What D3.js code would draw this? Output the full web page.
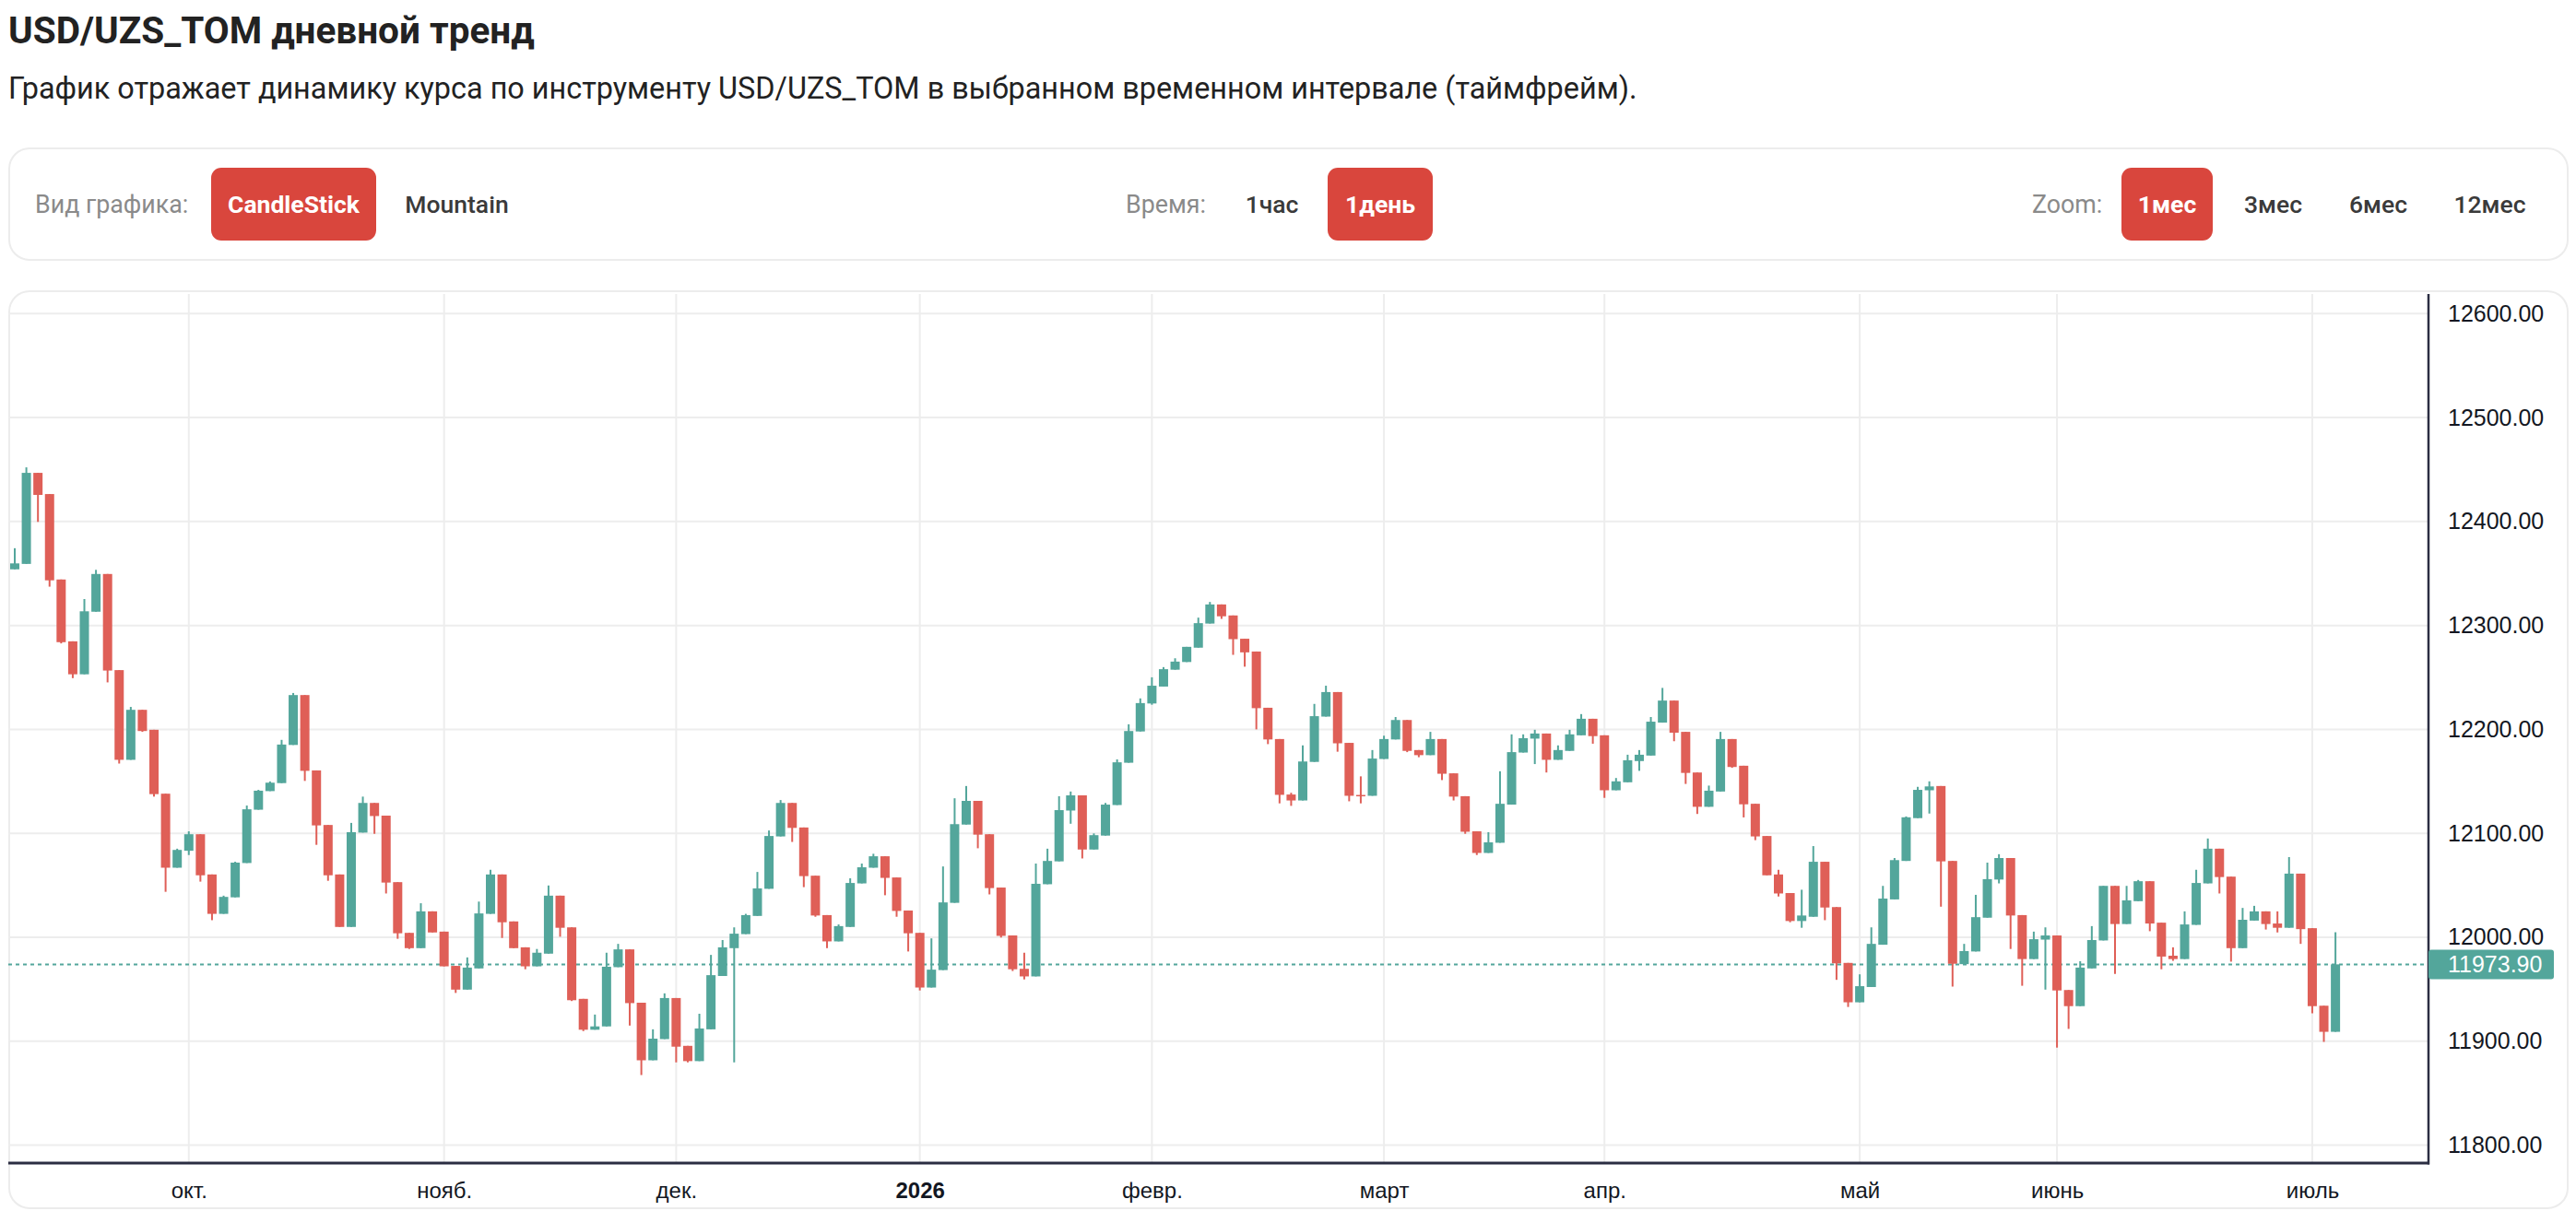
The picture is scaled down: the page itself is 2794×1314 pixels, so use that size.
<!DOCTYPE html>
<html><head><meta charset="utf-8">
<script src="https://cdn.jsdelivr.net/npm/d3@7"></script>
<style>
html,body{margin:0;padding:0;background:#fff;}
svg{display:block;}
</style></head><body>
<svg id="c" width="2794" height="1314"></svg>
<script>
// ---------- DATA ----------
const opens=[12354.0,12359.2,12446.8,12426.4,12344.2,12284.7,12253.0,12313.2,12349.5,12257.0,
12170.7,12218.8,12199.6,12138.1,12066.9,12083.2,12099.1,12060.4,12022.5,12038.4,
12071.4,12122.7,12140.6,12148.3,12185.0,12233.0,12160.5,12108.0,12060.4,12009.9,
12100.7,12129.2,12117.0,12053.0,12004.2,11989.5,12024.9,12005.4,11972.4,11949.6,
11970.0,12022.5,12060.4,12015.2,11990.3,11972.0,11984.2,12040.0,12009.5,11940.7,
11911.0,11914.2,11971.2,11988.3,11937.0,11881.6,11902.0,11941.5,11895.5,11880.8,
11911.4,11962.7,11989.5,12003.0,12020.5,12046.6,12097.0,12129.2,12105.6,12059.2,
12021.3,11996.0,12009.9,12051.8,12066.9,12077.9,12057.5,12025.7,12004.2,11951.6,
11968.4,12033.1,12108.4,12131.2,12099.1,12047.8,12001.7,11969.6,11962.3,12051.0,
12073.0,12121.9,12136.5,12084.4,12097.8,12127.2,12167.9,12198.0,12224.9,12241.2,
12257.4,12264.8,12278.6,12301.8,12320.2,12309.6,12287.2,12274.9,12220.8,12190.7,
12137.3,12131.6,12168.7,12212.3,12235.9,12187.0,12136.9,12136.1,12171.5,12190.3,
12209.0,12180.1,12175.2,12190.7,12157.7,12135.7,12101.9,12081.1,12090.9,12127.6,
12177.7,12191.1,12196.0,12170.7,12179.3,12194.3,12210.2,12194.3,12141.4,12149.1,
12169.5,12174.8,12206.5,12227.7,12197.6,12158.5,12125.5,12140.2,12190.7,12165.0,
12128.4,12097.4,12060.4,12042.5,12015.6,12019.7,12072.6,12029.0,11975.3,11937.4,
11952.1,11992.8,12036.4,12073.4,12114.6,12141.4,12145.5,12073.4,11974.1,11986.3,
12018.8,12055.5,12076.2,12021.3,11979.0,11997.7,12001.7,11949.2,11933.7,11970.0,
11996.9,12049.4,12012.7,12034.7,12053.9,12014.0,11982.2,11979.0,12011.9,12051.8,
12085.2,12058.3,11989.5,12016.0,12024.9,12013.2,12009.1,12061.2,12008.7,11934.1,
11909.0];
const highs=[12374.3,12452.1,12446.8,12426.4,12344.2,12284.7,12325.4,12353.5,12349.5,12257.0,
12221.6,12218.8,12199.6,12138.1,12085.2,12101.9,12099.1,12060.4,12040.0,12072.6,
12126.7,12141.8,12149.9,12189.9,12235.0,12233.0,12160.5,12108.0,12060.4,12110.0,
12135.3,12129.2,12117.0,12053.0,12004.2,12032.7,12024.9,12005.4,11972.4,11980.6,
12034.3,12064.9,12060.4,12015.2,11990.3,11988.7,12049.8,12040.0,12009.5,11940.7,
11925.6,11985.1,11993.6,11988.3,11937.0,11911.4,11946.0,11941.5,11895.5,11926.4,
11983.0,11997.3,12009.5,12022.5,12062.8,12102.7,12132.0,12129.2,12105.6,12059.2,
12021.3,12012.3,12056.7,12070.9,12080.3,12077.9,12057.5,12025.7,12004.2,11998.9,
12068.1,12133.7,12145.5,12131.2,12099.1,12047.8,12001.7,11985.1,12070.9,12085.2,
12135.7,12140.2,12136.5,12099.9,12129.2,12171.1,12204.9,12229.8,12250.1,12259.9,
12268.4,12279.4,12307.5,12322.6,12320.2,12309.6,12287.2,12274.9,12220.8,12190.7,
12139.0,12184.6,12224.5,12242.0,12235.9,12187.0,12154.8,12180.1,12193.9,12211.9,
12209.0,12180.1,12197.6,12190.7,12157.7,12135.7,12101.9,12101.1,12159.7,12195.2,
12195.2,12199.6,12196.0,12184.6,12199.6,12214.7,12210.2,12194.3,12153.2,12175.6,
12180.1,12211.9,12239.9,12227.7,12197.6,12158.5,12145.9,12197.6,12190.7,12165.0,
12128.4,12097.4,12064.9,12042.5,12045.7,12087.7,12072.6,12029.0,11975.3,11964.3,
12009.5,12049.4,12076.2,12116.2,12144.7,12150.0,12145.5,12073.4,11993.6,12040.8,
12071.8,12079.9,12076.2,12021.3,12005.4,12009.5,12001.7,11949.2,11976.9,12010.7,
12049.4,12049.4,12049.4,12055.1,12053.9,12014.0,11990.3,12024.9,12064.9,12095.0,
12085.2,12058.3,12028.2,12030.2,12024.9,12024.9,12077.1,12061.2,12008.7,11934.1,
12004.8];
const lows=[12354.0,12359.2,12399.6,12337.3,12282.7,12249.3,12253.0,12313.2,12245.2,12167.1,
12170.7,12197.6,12135.3,12043.7,12066.9,12079.1,12053.5,12016.4,12022.5,12038.4,
12071.4,12122.7,12140.6,12148.3,12185.0,12150.4,12088.9,12054.3,12009.9,12009.9,
12100.7,12099.5,12042.1,11998.5,11988.7,11989.5,12004.6,11972.0,11946.4,11949.6,
11970.0,12022.5,11999.3,11989.5,11969.2,11972.0,11984.2,12000.5,11938.6,11909.7,
11911.0,11914.2,11971.2,11915.0,11867.4,11881.6,11902.0,11879.6,11879.6,11880.8,
11911.4,11962.7,11879.6,12003.0,12020.5,12046.6,12097.0,12091.7,12048.2,12019.7,
11989.5,11996.0,12009.9,12051.8,12066.9,12040.4,12019.7,11986.3,11948.8,11951.6,
11968.4,12033.1,12108.4,12085.6,12041.2,11999.7,11967.5,11959.4,11962.3,12051.0,
12073.0,12109.2,12075.8,12084.4,12097.8,12127.2,12167.9,12198.0,12223.7,12241.2,
12257.4,12264.8,12278.6,12301.8,12306.3,12271.7,12260.3,12200.0,12185.8,12128.8,
12126.4,12131.6,12168.7,12212.3,12178.5,12130.8,12128.8,12136.1,12171.5,12190.3,
12178.1,12173.2,12175.2,12151.2,12131.6,12099.5,12079.1,12081.1,12090.9,12127.6,
12177.7,12166.6,12158.5,12170.7,12179.3,12194.3,12186.2,12134.1,12141.4,12149.1,
12160.1,12174.8,12206.5,12188.6,12147.5,12118.6,12125.5,12140.2,12163.0,12115.3,
12093.4,12059.6,12039.2,12014.4,12009.1,12019.7,12016.4,11959.0,11932.9,11937.4,
11952.1,11992.8,12036.4,12073.4,12114.6,12119.0,12029.4,11952.5,11974.1,11986.3,
12018.8,12051.8,11988.7,11953.3,11979.0,11949.6,11893.8,11911.8,11933.7,11970.0,
11996.9,11964.7,12012.7,12034.7,12005.8,11969.2,11977.3,11979.0,12011.9,12051.8,
12042.1,11976.5,11989.5,12016.0,12007.4,12004.6,12009.1,11993.6,11926.8,11899.3,
11909.0];
const closes=[12359.7,12446.8,12425.6,12343.4,12283.9,12253.0,12313.6,12349.5,12256.6,12170.7,
12218.8,12198.4,12137.7,12066.9,12084.0,12099.1,12059.6,12022.5,12038.8,12071.8,
12123.1,12141.0,12148.7,12185.4,12233.0,12160.1,12107.6,12059.6,12009.9,12101.1,
12129.2,12116.6,12052.6,12003.8,11989.5,12024.9,12004.6,11972.0,11949.6,11970.8,
12022.9,12060.4,12014.4,11989.5,11972.0,11985.1,12040.0,12009.1,11939.4,11911.0,
11914.2,11971.6,11988.3,11936.6,11881.6,11902.4,11941.5,11894.7,11880.8,11912.2,
11963.5,11990.3,12003.4,12021.3,12047.0,12097.4,12129.2,12105.2,12058.8,12020.9,
11996.0,12010.7,12052.2,12067.3,12077.9,12057.1,12025.3,12003.8,11951.6,11968.8,
12033.5,12108.8,12131.2,12098.7,12047.3,12001.3,11969.2,11962.3,12051.4,12073.4,
12122.3,12136.5,12084.4,12098.2,12127.6,12168.3,12198.4,12225.3,12242.0,12257.9,
12265.2,12279.4,12302.2,12320.2,12308.8,12286.8,12274.1,12220.4,12190.3,12137.0,
12131.6,12169.1,12212.7,12235.9,12186.6,12136.1,12136.1,12171.9,12190.7,12209.0,
12179.3,12175.2,12190.7,12157.3,12135.3,12101.5,12081.1,12091.3,12128.4,12178.1,
12191.5,12196.0,12170.7,12180.1,12195.2,12210.2,12193.5,12141.4,12150.0,12170.3,
12175.6,12207.4,12227.7,12196.8,12158.1,12125.5,12141.0,12190.7,12163.8,12127.9,
12097.0,12059.6,12042.1,12015.6,12020.9,12072.6,12028.6,11974.9,11937.4,11952.9,
11993.6,12037.2,12074.2,12115.4,12141.8,12145.1,12073.0,11974.5,11986.7,12019.3,
12055.9,12076.2,12020.9,11979.0,11998.1,12001.7,11948.8,11933.7,11970.8,11997.3,
12049.4,12012.7,12035.5,12053.9,12013.2,11981.4,11979.0,12012.3,12052.2,12085.2,
12057.9,11989.5,12016.8,12024.9,12012.7,12009.1,12061.2,12007.8,11933.7,11909.0,
11973.9];
const monthTickIndex=[15,37,57,78,98,118,137,159,176,198];
const monthTickLabels=["окт.","нояб.","дек.","2026","февр.","март","апр.","май","июнь","июль"];
const priceTicks=[11800,11900,12000,12100,12200,12300,12400,12500,12600];
const lastPrice=11973.90;
const chartTypes=["CandleStick","Mountain"];
const timeframes=["1час","1день"];
const zooms=["1мес","3мес","6мес","12мес"];

// ---------- LAYOUT ----------
const UP="#53a69b", DOWN="#df5f57", BTN="#d9463d";
const svg=d3.select("#c");
const n=closes.length;
const candles=d3.range(n).map(i=>({i,o:opens[i],h:highs[i],l:lows[i],c:closes[i]}));
const plot={left:9,right:2634,top:319,bottom:1262};

// header
svg.append("text").attr("x",9).attr("y",47).attr("font-family","Roboto").attr("font-weight",700)
  .attr("font-size",40.5).attr("fill","#222").text("USD/UZS_TOM дневной тренд");
svg.append("text").attr("x",9).attr("y",107).attr("font-family","Roboto").attr("font-weight",400)
  .attr("font-size",32.4).attr("fill","#222")
  .text("График отражает динамику курса по инструменту USD/UZS_TOM в выбранном временном интервале (таймфрейм).");

// controls box
svg.append("rect").attr("x",10).attr("y",161).attr("width",2775).attr("height",121).attr("rx",22)
  .attr("fill","#fff").attr("stroke","#ececec").attr("stroke-width",2);
const ctrlY=222;
function label(x,t){svg.append("text").attr("x",x).attr("y",ctrlY).attr("dy","0.35em")
  .attr("font-family","Roboto").attr("font-size",26.8).attr("fill","#8a8a8a").text(t);}
function btn(cx,w,t,active){
  if(active) svg.append("rect").attr("x",cx-w/2).attr("y",182).attr("width",w).attr("height",79)
    .attr("rx",11).attr("fill",BTN);
  svg.append("text").attr("x",cx).attr("y",ctrlY).attr("dy","0.35em").attr("text-anchor","middle")
    .attr("font-family","Roboto").attr("font-weight",active?700:500).attr("font-size",26.5)
    .attr("fill",active?"#fff":"#3a3a3a").text(t);
}
label(38,"Вид графика:");
btn(318.5,179,chartTypes[0],true);
btn(495.5,0,chartTypes[1],false);
label(1221,"Время:");
btn(1379.5,0,timeframes[0],false);
btn(1497,114,timeframes[1],true);
label(2204,"Zoom:");
btn(2350.5,99,zooms[0],true);
btn(2465.5,0,zooms[1],false);
btn(2579.5,0,zooms[2],false);
btn(2700.5,0,zooms[3],false);

// chart box
svg.append("rect").attr("x",10).attr("y",316).attr("width",2775).attr("height",995).attr("rx",22)
  .attr("fill","#fff").attr("stroke","#ececec").attr("stroke-width",2);

// scales
const x=d3.scaleLinear().domain([-0.5,208]).range([9.7,2633.8]);
const y=d3.scaleLinear().domain([11782.7,12618.9]).range([plot.bottom,plot.top]);
const bodyW=10;

// grid
const grid=svg.append("g");
grid.selectAll("line.h").data(priceTicks).join("line").attr("class","h")
  .attr("x1",plot.left).attr("x2",plot.right).attr("y1",d=>y(d)).attr("y2",d=>y(d))
  .attr("stroke","#ededed").attr("stroke-width",2);
grid.selectAll("line.v").data(monthTickIndex).join("line").attr("class","v")
  .attr("x1",d=>x(d)).attr("x2",d=>x(d)).attr("y1",plot.top).attr("y2",plot.bottom)
  .attr("stroke","#ededed").attr("stroke-width",2);

// clip
svg.append("clipPath").attr("id","clip").append("rect")
  .attr("x",plot.left).attr("y",plot.top).attr("width",plot.right-plot.left).attr("height",plot.bottom-plot.top);
const g=svg.append("g").attr("clip-path","url(#clip)");

// last price dashed line
g.append("line").attr("x1",plot.left).attr("x2",plot.right).attr("y1",y(lastPrice)).attr("y2",y(lastPrice))
  .attr("stroke",UP).attr("stroke-width",2).attr("stroke-dasharray","4,4");

// candles
const cg=g.selectAll("g.cd").data(candles).join("g").attr("class","cd");
cg.append("line").attr("x1",d=>x(d.i)).attr("x2",d=>x(d.i)).attr("y1",d=>y(d.h)).attr("y2",d=>y(d.l))
  .attr("stroke",d=>d.c>=d.o?UP:DOWN).attr("stroke-width",2);
cg.append("rect").attr("x",d=>x(d.i)-bodyW/2).attr("width",bodyW)
  .attr("y",d=>y(Math.max(d.o,d.c))).attr("height",d=>Math.max(1.5,Math.abs(y(d.o)-y(d.c))))
  .attr("fill",d=>d.c>=d.o?UP:DOWN);

// axes lines
svg.append("line").attr("x1",plot.right).attr("x2",plot.right).attr("y1",plot.top).attr("y2",plot.bottom+1.5)
  .attr("stroke","#2b2d42").attr("stroke-width",2.5);
svg.append("line").attr("x1",plot.left).attr("x2",plot.right+1).attr("y1",plot.bottom).attr("y2",plot.bottom)
  .attr("stroke","#2b2d42").attr("stroke-width",3);

// y axis
const ya=svg.append("g").attr("transform",`translate(${plot.right},0)`)
  .call(d3.axisRight(y).tickValues(priceTicks).tickFormat(d3.format(".2f")).tickSize(0).tickPadding(21));
ya.select(".domain").remove();
ya.selectAll("text").attr("font-family","Liberation Sans, Arial, sans-serif").attr("font-size",25).attr("fill","#131722");

// x axis
const xa=svg.append("g").attr("transform",`translate(0,${plot.bottom})`)
  .call(d3.axisBottom(x).tickValues(monthTickIndex).tickFormat((d,k)=>monthTickLabels[k]).tickSize(0).tickPadding(21));
xa.select(".domain").remove();
xa.selectAll("text").attr("font-family","Liberation Sans, Arial, sans-serif").attr("font-size",24).attr("fill","#131722")
  .attr("font-weight",(d,k)=>monthTickLabels[k]==="2026"?700:400);

// last price label
svg.append("rect").attr("x",plot.right).attr("y",y(lastPrice)-16).attr("width",136).attr("height",32).attr("rx",3)
  .attr("fill",UP);
svg.append("text").attr("x",plot.right+21).attr("y",y(lastPrice)).attr("dy","0.35em")
  .attr("font-family","Liberation Sans, Arial, sans-serif").attr("font-size",25).attr("fill","#fff")
  .text(d3.format(".2f")(lastPrice));
</script>
</body></html>
